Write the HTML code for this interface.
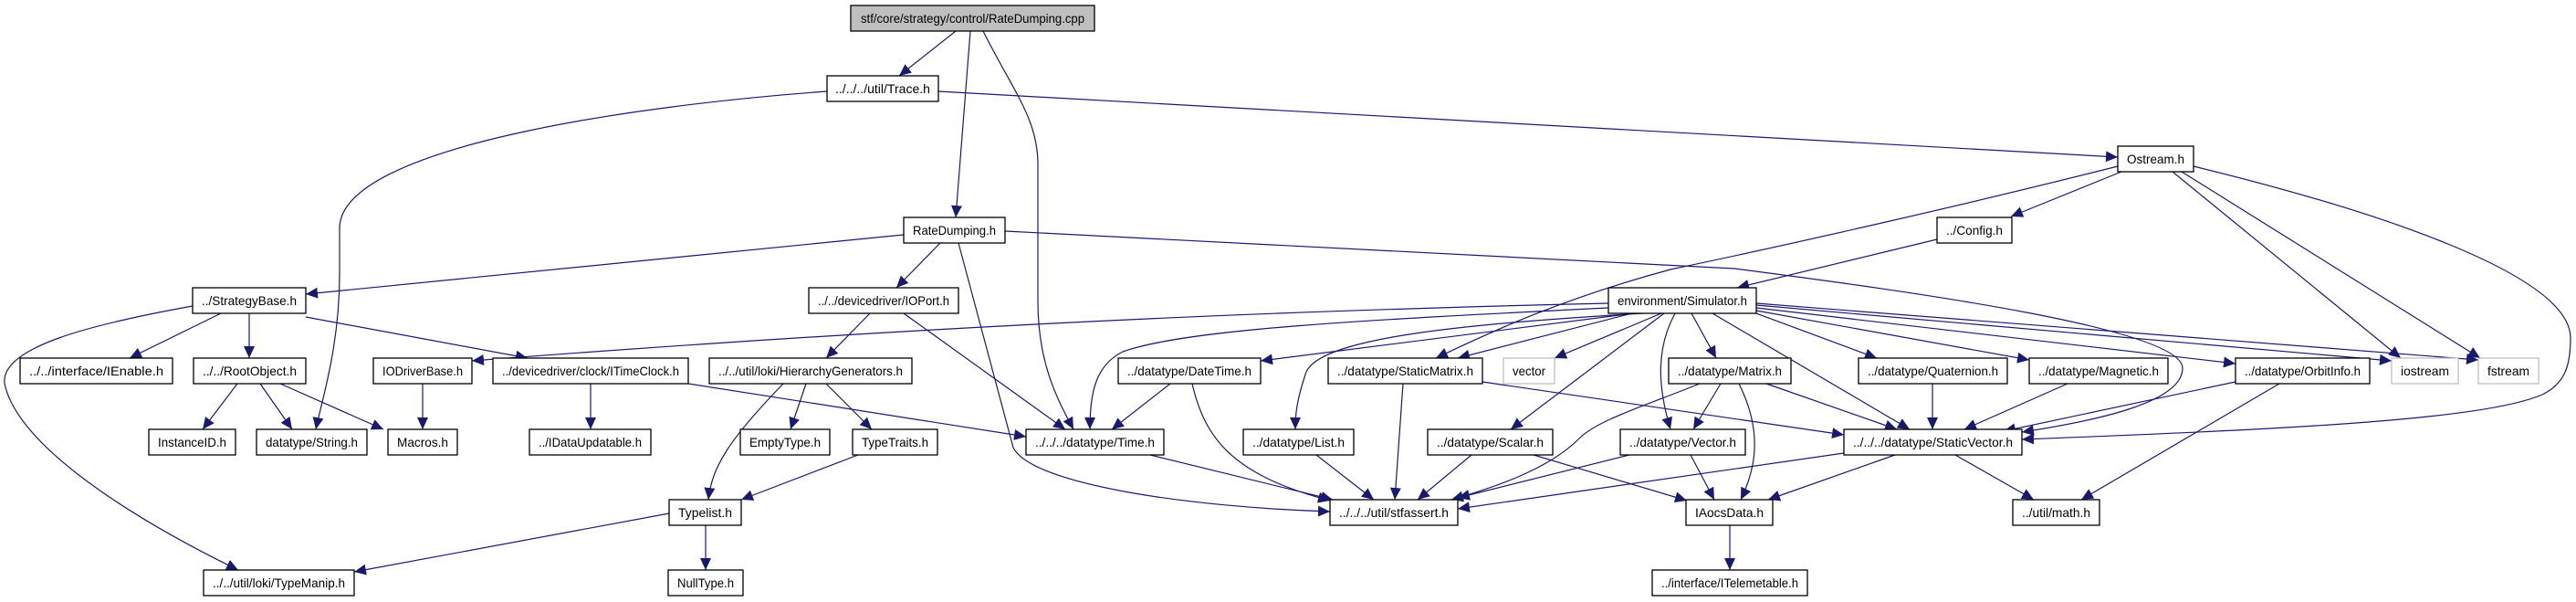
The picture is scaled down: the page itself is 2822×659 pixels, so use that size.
<!DOCTYPE html>
<html><head><meta charset="utf-8"><style>
html,body{margin:0;padding:0;background:#fff;}
svg{display:block;}
text{font-family:"Liberation Sans",sans-serif;font-size:14px;fill:#000;}
.n{fill:#fff;stroke:#000;stroke-width:1.3;}
.g{fill:#fff;stroke:#bfbfbf;stroke-width:1.3;}
.e{fill:none;stroke:#191970;stroke-width:1.2;}
</style></head><body>
<svg width="2822" height="659" viewBox="0 0 2822 659" xmlns="http://www.w3.org/2000/svg">
<defs><marker id="a" markerUnits="userSpaceOnUse" markerWidth="14" markerHeight="12" refX="13" refY="6" orient="auto"><path d="M0,0 L13,6 L0,12 z" fill="#191970"/></marker></defs>
<g class="e" marker-end="url(#a)">
<path d="M1047,34 L985,83"/>
<path d="M1063,34 L1047,238"/>
<path d="M1077,34 C1110,100 1137,130 1137,180 L1137,330 C1137,400 1160,440 1176,470"/>
<path d="M1028,100 L2320,172"/>
<path d="M906,100 C700,115 372,160 372,250 L372,300 C372,380 352,440 346,470"/>
<path d="M2324,188 L2203,237"/>
<path d="M2320,182 C2150,225 1950,270 1830,295 C1700,330 1620,370 1573,392"/>
<path d="M2380,188 L2630,392"/>
<path d="M2390,188 L2717,392"/>
<path d="M2403,182 C2600,230 2816,300 2816,370 C2816,400 2810,420 2785,432 C2720,460 2500,470 2215,481"/>
<path d="M2122,262 L1903,315"/>
<path d="M990,257 L335,322"/>
<path d="M1030,266 L982,315"/>
<path d="M1050,266 L1110,490 C1130,530 1300,555 1457,560"/>
<path d="M1101,253 L1900,294 C2100,320 2391,360 2391,403 C2391,440 2300,460 2215,473"/>
<path d="M242,343 L142,392"/>
<path d="M273,343 L273,392"/>
<path d="M335,347 L578,392"/>
<path d="M211,335 C100,355 0,380 5,420 C20,490 150,570 261,624"/>
<path d="M260,420 L222,470"/>
<path d="M285,420 L320,470"/>
<path d="M307,420 L420,470"/>
<path d="M463,420 L463,470"/>
<path d="M647,420 L647,470"/>
<path d="M754,420 L1124,478"/>
<path d="M953,343 L905,392"/>
<path d="M990,343 L1167,470"/>
<path d="M858,420 C800,480 780,510 776,547"/>
<path d="M883,420 L866,470"/>
<path d="M905,420 L955,470"/>
<path d="M940,498 L812,547"/>
<path d="M733,562 L388,626"/>
<path d="M773,575 L773,624"/>
<path d="M1762,332 C1500,338 1100,350 517,395"/>
<path d="M1762,337 C1500,350 1300,360 1230,385 C1200,400 1194,430 1194,470"/>
<path d="M1790,343 L1381,395"/>
<path d="M1788,343 L1597,392"/>
<path d="M1800,343 C1600,355 1440,370 1430,410 C1420,440 1419,455 1419,470"/>
<path d="M1820,343 L1703,392"/>
<path d="M1823,343 L1655,470"/>
<path d="M1835,343 C1815,380 1815,420 1830,470"/>
<path d="M1853,343 L1880,392"/>
<path d="M1876,343 L2092,470"/>
<path d="M1924,343 L2056,392"/>
<path d="M1924,340 L2223,394"/>
<path d="M1924,337 L2449,398"/>
<path d="M1924,334 L2620,395"/>
<path d="M1924,332 L2715,394"/>
<path d="M1282,420 L1218,470"/>
<path d="M1306,420 C1320,480 1350,520 1457,548"/>
<path d="M1537,420 L1528,547"/>
<path d="M1624,418 L2020,476"/>
<path d="M1260,498 L1460,547"/>
<path d="M1442,498 L1505,547"/>
<path d="M1612,498 L1553,547"/>
<path d="M1680,498 L1848,548"/>
<path d="M1862,420 C1800,445 1750,460 1730,480 C1700,510 1650,530 1590,547"/>
<path d="M1885,420 L1855,470"/>
<path d="M1905,420 C1930,470 1925,510 1907,547"/>
<path d="M1935,420 L2078,470"/>
<path d="M1785,498 L1597,545"/>
<path d="M1852,498 L1878,547"/>
<path d="M2020,496 L1597,557"/>
<path d="M2076,498 L1937,547"/>
<path d="M2142,498 L2228,547"/>
<path d="M2117,420 L2117,470"/>
<path d="M2265,420 L2152,470"/>
<path d="M2449,418 L2195,472"/>
<path d="M2497,420 L2280,547"/>
<path d="M1895,575 L1895,624"/>
</g>
<g>
<rect x="932" y="6" width="267" height="28" fill="#bfbfbf" stroke="#000" stroke-width="1.3"/><text x="1065.5" y="25" text-anchor="middle" textLength="245" lengthAdjust="spacingAndGlyphs">stf/core/strategy/control/RateDumping.cpp</text>
<rect class="n" x="906" y="83" width="122" height="28"/><text x="967" y="102" text-anchor="middle" textLength="104" lengthAdjust="spacingAndGlyphs">../../../util/Trace.h</text>
<rect class="n" x="2320" y="160" width="83" height="28"/><text x="2361.5" y="179" text-anchor="middle" textLength="63" lengthAdjust="spacingAndGlyphs">Ostream.h</text>
<rect class="n" x="990" y="238" width="111" height="28"/><text x="1045.5" y="257" text-anchor="middle" textLength="91" lengthAdjust="spacingAndGlyphs">RateDumping.h</text>
<rect class="n" x="2122" y="238" width="82" height="28"/><text x="2163" y="257" text-anchor="middle" textLength="62" lengthAdjust="spacingAndGlyphs">../Config.h</text>
<rect class="n" x="211" y="315" width="124" height="28"/><text x="273" y="334" text-anchor="middle" textLength="104" lengthAdjust="spacingAndGlyphs">../StrategyBase.h</text>
<rect class="n" x="886" y="315" width="164" height="28"/><text x="968" y="334" text-anchor="middle" textLength="144" lengthAdjust="spacingAndGlyphs">../../devicedriver/IOPort.h</text>
<rect class="n" x="1762" y="315" width="162" height="28"/><text x="1843" y="334" text-anchor="middle" textLength="142" lengthAdjust="spacingAndGlyphs">environment/Simulator.h</text>
<rect class="n" x="22" y="392" width="167" height="28"/><text x="105.5" y="411" text-anchor="middle" textLength="147" lengthAdjust="spacingAndGlyphs">../../interface/IEnable.h</text>
<rect class="n" x="212" y="392" width="123" height="28"/><text x="273.5" y="411" text-anchor="middle" textLength="103" lengthAdjust="spacingAndGlyphs">../../RootObject.h</text>
<rect class="n" x="409" y="392" width="108" height="28"/><text x="463" y="411" text-anchor="middle" textLength="88" lengthAdjust="spacingAndGlyphs">IODriverBase.h</text>
<rect class="n" x="540" y="392" width="214" height="28"/><text x="647" y="411" text-anchor="middle" textLength="194" lengthAdjust="spacingAndGlyphs">../devicedriver/clock/ITimeClock.h</text>
<rect class="n" x="777" y="392" width="222" height="28"/><text x="888" y="411" text-anchor="middle" textLength="202" lengthAdjust="spacingAndGlyphs">../../util/loki/HierarchyGenerators.h</text>
<rect class="n" x="1225" y="392" width="156" height="28"/><text x="1303" y="411" text-anchor="middle" textLength="136" lengthAdjust="spacingAndGlyphs">../datatype/DateTime.h</text>
<rect class="n" x="1455" y="392" width="169" height="28"/><text x="1539.5" y="411" text-anchor="middle" textLength="149" lengthAdjust="spacingAndGlyphs">../datatype/StaticMatrix.h</text>
<rect class="g" x="1647" y="392" width="56" height="28"/><text x="1675" y="411" text-anchor="middle" textLength="36" lengthAdjust="spacingAndGlyphs">vector</text>
<rect class="n" x="1828" y="392" width="134" height="28"/><text x="1895" y="411" text-anchor="middle" textLength="114" lengthAdjust="spacingAndGlyphs">../datatype/Matrix.h</text>
<rect class="n" x="2036" y="392" width="163" height="28"/><text x="2117.5" y="411" text-anchor="middle" textLength="143" lengthAdjust="spacingAndGlyphs">../datatype/Quaternion.h</text>
<rect class="n" x="2223" y="392" width="152" height="28"/><text x="2299" y="411" text-anchor="middle" textLength="132" lengthAdjust="spacingAndGlyphs">../datatype/Magnetic.h</text>
<rect class="n" x="2449" y="392" width="147" height="28"/><text x="2522.5" y="411" text-anchor="middle" textLength="127" lengthAdjust="spacingAndGlyphs">../datatype/OrbitInfo.h</text>
<rect class="g" x="2620" y="392" width="73" height="28"/><text x="2656.5" y="411" text-anchor="middle" textLength="53" lengthAdjust="spacingAndGlyphs">iostream</text>
<rect class="g" x="2715" y="392" width="66" height="28"/><text x="2748" y="411" text-anchor="middle" textLength="46" lengthAdjust="spacingAndGlyphs">fstream</text>
<rect class="n" x="163" y="470" width="95" height="28"/><text x="210.5" y="489" text-anchor="middle" textLength="75" lengthAdjust="spacingAndGlyphs">InstanceID.h</text>
<rect class="n" x="281" y="470" width="121" height="28"/><text x="341.5" y="489" text-anchor="middle" textLength="101" lengthAdjust="spacingAndGlyphs">datatype/String.h</text>
<rect class="n" x="425" y="470" width="76" height="28"/><text x="463" y="489" text-anchor="middle" textLength="56" lengthAdjust="spacingAndGlyphs">Macros.h</text>
<rect class="n" x="580" y="470" width="133" height="28"/><text x="646.5" y="489" text-anchor="middle" textLength="113" lengthAdjust="spacingAndGlyphs">../IDataUpdatable.h</text>
<rect class="n" x="811" y="470" width="98" height="28"/><text x="860" y="489" text-anchor="middle" textLength="78" lengthAdjust="spacingAndGlyphs">EmptyType.h</text>
<rect class="n" x="934" y="470" width="93" height="28"/><text x="980.5" y="489" text-anchor="middle" textLength="73" lengthAdjust="spacingAndGlyphs">TypeTraits.h</text>
<rect class="n" x="1124" y="470" width="151" height="28"/><text x="1199.5" y="489" text-anchor="middle" textLength="131" lengthAdjust="spacingAndGlyphs">../../../datatype/Time.h</text>
<rect class="n" x="1362" y="470" width="121" height="28"/><text x="1422.5" y="489" text-anchor="middle" textLength="101" lengthAdjust="spacingAndGlyphs">../datatype/List.h</text>
<rect class="n" x="1564" y="470" width="137" height="28"/><text x="1632.5" y="489" text-anchor="middle" textLength="117" lengthAdjust="spacingAndGlyphs">../datatype/Scalar.h</text>
<rect class="n" x="1775" y="470" width="137" height="28"/><text x="1843.5" y="489" text-anchor="middle" textLength="117" lengthAdjust="spacingAndGlyphs">../datatype/Vector.h</text>
<rect class="n" x="2020" y="470" width="195" height="28"/><text x="2117.5" y="489" text-anchor="middle" textLength="175" lengthAdjust="spacingAndGlyphs">../../../datatype/StaticVector.h</text>
<rect class="n" x="733" y="547" width="79" height="28"/><text x="772.5" y="566" text-anchor="middle" textLength="59" lengthAdjust="spacingAndGlyphs">Typelist.h</text>
<rect class="n" x="1457" y="547" width="140" height="28"/><text x="1527" y="566" text-anchor="middle" textLength="120" lengthAdjust="spacingAndGlyphs">../../../util/stfassert.h</text>
<rect class="n" x="1847" y="547" width="95" height="28"/><text x="1894.5" y="566" text-anchor="middle" textLength="75" lengthAdjust="spacingAndGlyphs">IAocsData.h</text>
<rect class="n" x="2205" y="547" width="95" height="28"/><text x="2252.5" y="566" text-anchor="middle" textLength="75" lengthAdjust="spacingAndGlyphs">../util/math.h</text>
<rect class="n" x="223" y="624" width="165" height="28"/><text x="305.5" y="643" text-anchor="middle" textLength="145" lengthAdjust="spacingAndGlyphs">../../util/loki/TypeManip.h</text>
<rect class="n" x="732" y="624" width="82" height="28"/><text x="773" y="643" text-anchor="middle" textLength="62" lengthAdjust="spacingAndGlyphs">NullType.h</text>
<rect class="n" x="1810" y="624" width="170" height="28"/><text x="1895" y="643" text-anchor="middle" textLength="150" lengthAdjust="spacingAndGlyphs">../interface/ITelemetable.h</text>
</g>
</svg>
</body></html>
